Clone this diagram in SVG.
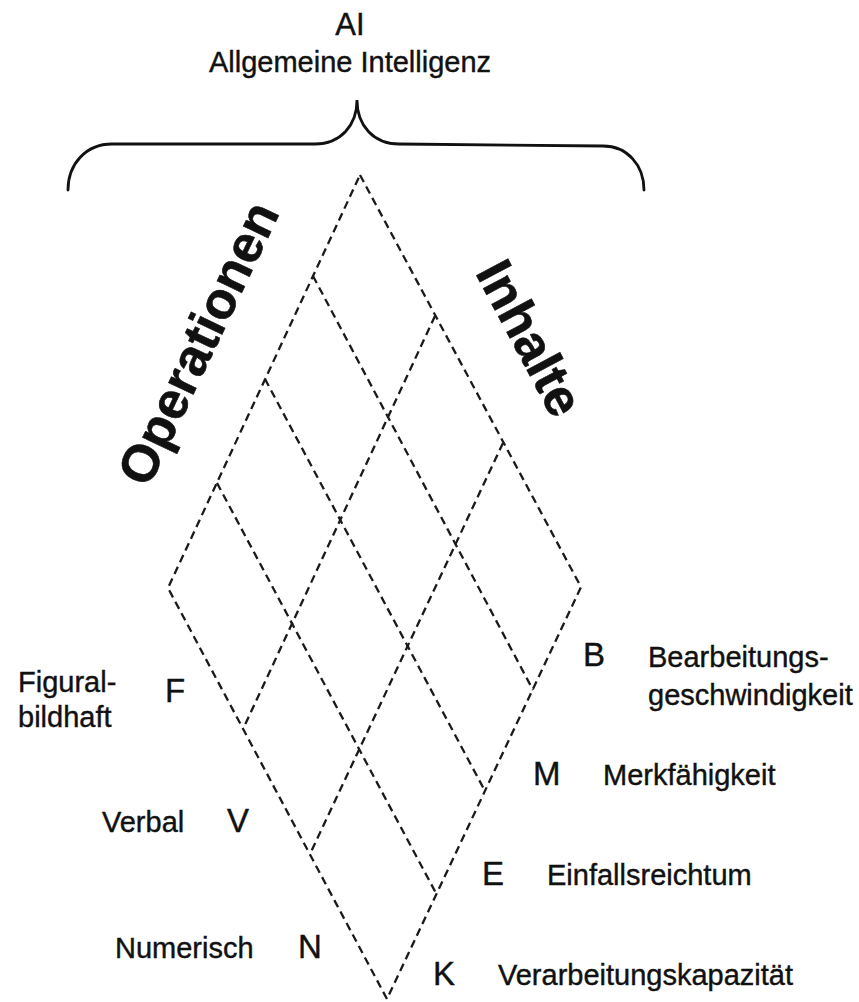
<svg xmlns="http://www.w3.org/2000/svg" width="859" height="1002" viewBox="0 0 859 1002">
<style>
text{font-family:"Liberation Sans",Arial,sans-serif;fill:#111;stroke:#111;stroke-width:0.4}
.lbl{font-size:29px}
.let{font-size:33px}
.big{font-size:52px;font-weight:bold;stroke-width:0.6}
.dash{fill:none;stroke:#1a1a1a;stroke-width:2.3;stroke-dasharray:8 5}
.brace{fill:none;stroke:#111;stroke-width:2.8;stroke-linecap:round}
</style>
<rect width="859" height="1002" fill="#fff"/>
<g id="title">
<text x="350" y="35" text-anchor="middle" style="font-size:31px">AI</text>
<text x="350" y="72" text-anchor="middle" class="lbl">Allgemeine Intelligenz</text>
</g>
<g id="connectors">
<path class="brace" d="M68,190 C68,164 86,144 112,144 L315,144 C340,144 357,126 357,100 C357,126 374,144 399,144 L603,146 C627,146 644,165 644,190"/>
</g>
<g id="grid">
<path class="dash" d="M360,175 L581,587 L387,999 L168,588 Z"/>
<path class="dash" d="M313,276 L533,690"/>
<path class="dash" d="M265,379 L485,791"/>
<path class="dash" d="M217,483 L437,895"/>
<path class="dash" d="M435,316 L244,727"/>
<path class="dash" d="M503,443 L311,852"/>
</g>
<g id="axis-operationen">
<text class="big" transform="translate(198,343) rotate(-64.5)" text-anchor="middle" dominant-baseline="central">Operationen</text>
</g>
<g id="axis-inhalte">
<text class="big" transform="translate(530,338) rotate(62)" text-anchor="middle" dominant-baseline="central">Inhalte</text>
</g>
<g id="op-F">
<text x="18" y="692" class="lbl">Figural-</text>
<text x="18" y="727" class="lbl">bildhaft</text>
<text x="165" y="702" class="let">F</text>
</g>
<g id="op-V">
<text x="102" y="832" class="lbl">Verbal</text>
<text x="227" y="832" class="let">V</text>
</g>
<g id="op-N">
<text x="115" y="958" class="lbl">Numerisch</text>
<text x="298" y="958" class="let">N</text>
</g>
<g id="in-B">
<text x="583" y="666" class="let">B</text>
<text x="648" y="667" class="lbl">Bearbeitungs-</text>
<text x="648" y="705" class="lbl">geschwindigkeit</text>
</g>
<g id="in-M">
<text x="533" y="785" class="let">M</text>
<text x="603" y="785" class="lbl">Merkfähigkeit</text>
</g>
<g id="in-E">
<text x="482" y="885" class="let">E</text>
<text x="547" y="885" class="lbl">Einfallsreichtum</text>
</g>
<g id="in-K">
<text x="433" y="985" class="let">K</text>
<text x="498" y="985" class="lbl">Verarbeitungskapazität</text>
</g>
</svg>
